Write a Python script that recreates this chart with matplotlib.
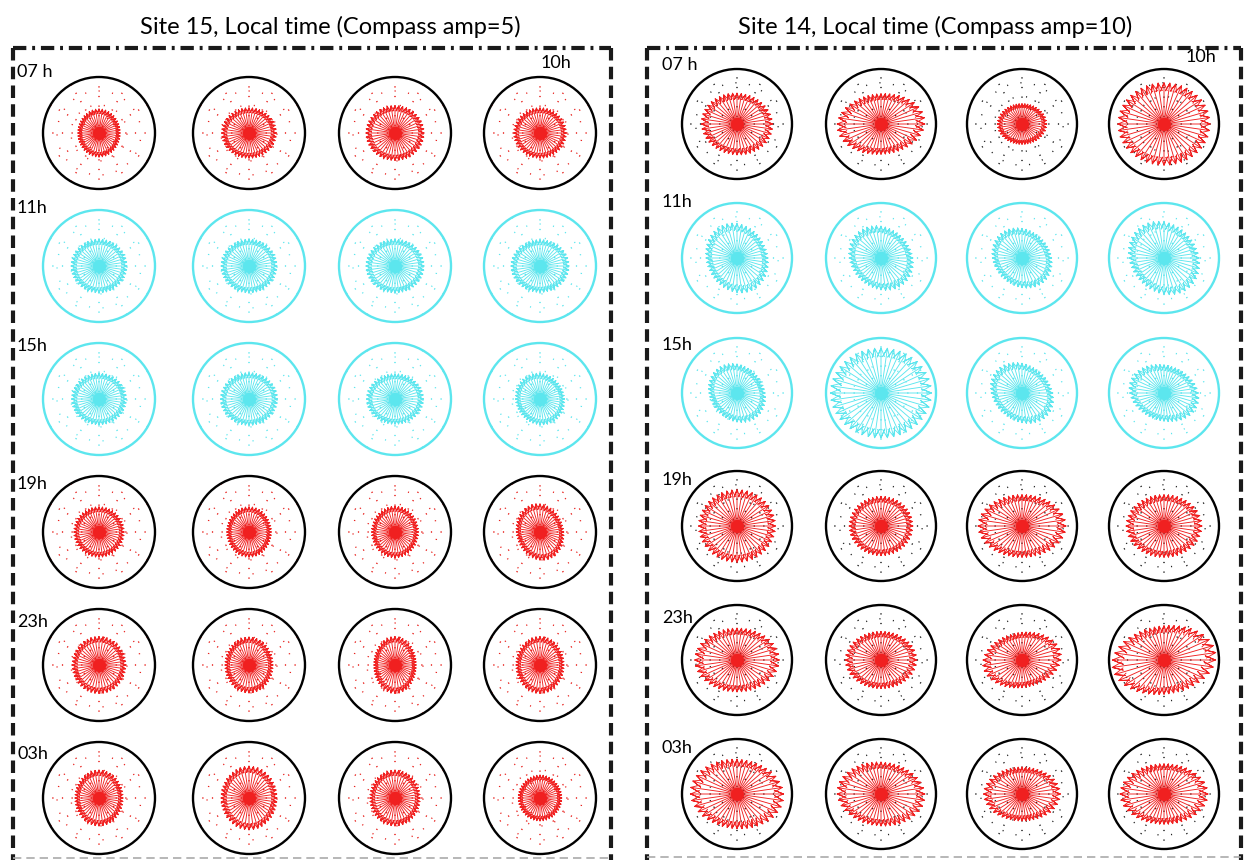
import numpy as np
import matplotlib.pyplot as plt
from matplotlib.collections import LineCollection
from matplotlib.patches import Circle

plt.rcParams['font.family'] = ['Lato', 'DejaVu Sans']

# ---- data -------------------------------------------------------------
titles = ['Site 15, Local time (Compass amp=5)',
          'Site 14, Local time (Compass amp=10)']
row_labels = ['07 h', '11h', '15h', '19h', '23h', '03h']
corner_label = '10h'
# rows drawn in cyan (daytime) vs red/black
cyan_rows = [False, True, True, False, False, False]

# polarisation ellipse of each compass plot, as fraction of the outer circle
# a: semi-axis along tilt, b: perpendicular semi-axis, tilt in degrees
site15_a = [[0.38, 0.49, 0.52, 0.47],
            [0.50, 0.50, 0.52, 0.52],
            [0.49, 0.51, 0.51, 0.47],
            [0.45, 0.40, 0.42, 0.51],
            [0.48, 0.43, 0.38, 0.43],
            [0.43, 0.50, 0.45, 0.39]]
site15_b = [[0.43, 0.45, 0.49, 0.45],
            [0.48, 0.48, 0.48, 0.47],
            [0.46, 0.47, 0.45, 0.43],
            [0.45, 0.45, 0.46, 0.42],
            [0.51, 0.50, 0.51, 0.51],
            [0.50, 0.57, 0.50, 0.41]]
site15_tilt = [[0, 0, 0, 0],
               [0, 0, 0, 0],
               [0, 0, 0, 120],
               [0, 0, 0, 105],
               [0, 0, 0, 0],
               [0, 0, 0, 0]]

site14_a = [[0.65, 0.80, 0.45, 0.84],
            [0.65, 0.63, 0.59, 0.71],
            [0.57, 0.92, 0.62, 0.65],
            [0.70, 0.58, 0.80, 0.69],
            [0.77, 0.65, 0.72, 0.95],
            [0.85, 0.80, 0.70, 0.80]]
site14_b = [[0.56, 0.55, 0.37, 0.75],
            [0.55, 0.54, 0.50, 0.60],
            [0.48, 0.82, 0.50, 0.50],
            [0.66, 0.54, 0.57, 0.57],
            [0.58, 0.52, 0.50, 0.62],
            [0.63, 0.58, 0.49, 0.55]]
site14_tilt = [[-8, 5, 0, 0],
               [115, 135, 135, 130],
               [130, 0, 140, 160],
               [0, 0, 0, 0],
               [0, 0, 10, 8],
               [-5, -5, 0, 0]]

n_arrows = 44

# ---- layout (pixels) --------------------------------------------------
W, H = 1244, 860
fig = plt.figure(figsize=(W / 100, H / 100), dpi=100)

panels = [
    dict(a=site15_a, b=site15_b, tilt=site15_tilt,
         cols=[99, 249, 395, 540], rows=[133, 266, 399, 532, 665, 798], r=56,
         box=(13, 48, 611, 858), title_x=330, lab_x=17,
         lab_y=[72, 208, 346, 484, 622, 754], corner=(556, 63),
         grid_red='#e8201c'),
    dict(a=site14_a, b=site14_b, tilt=site14_tilt,
         cols=[737, 881, 1022, 1164], rows=[124, 258, 393, 526, 660, 794], r=55,
         box=(647, 48, 1241, 857), title_x=935, lab_x=662,
         lab_y=[65, 202, 345, 480, 618, 748], corner=(1201, 57),
         grid_red='#222222'),
]

RED = '#f02020'
CYAN = '#5ce6ee'

ov = fig.add_axes([0, 0, 1, 1])
ov.set_xlim(0, W)
ov.set_ylim(H, 0)
ov.axis('off')


def compass(ax, a, b, tilt, col, ring_col, grid_col):
    phi = np.linspace(0, 2 * np.pi, n_arrows, endpoint=False)
    d = phi - np.deg2rad(tilt)
    rad = a * b / np.sqrt((b * np.cos(d)) ** 2 + (a * np.sin(d)) ** 2)
    z = rad * np.exp(1j * phi)
    # matlab compass arrow: origin -> tip -> barb -> tip -> barb
    shape = np.array([0, 1, 0.8 + 0.08j, 1, 0.8 - 0.08j])
    segs = z[:, None] * shape[None, :]
    lines = [np.column_stack([s.real, s.imag]) for s in segs]

    # dotted polar grid
    for ang in np.arange(0, 360, 30):
        ca, sa = np.cos(np.deg2rad(ang)), np.sin(np.deg2rad(ang))
        ax.plot([0.12 * ca, ca], [0.12 * sa, sa], color=grid_col,
                ls=(0, (0.8, 5.5)), lw=1.1, zorder=1)
    tt = np.linspace(0, 2 * np.pi, 200)
    for rr in (0.5, 0.75):
        ax.plot(rr * np.cos(tt), rr * np.sin(tt), color=grid_col,
                ls=(2, (0.8, 9)), lw=1.0, zorder=1)

    ax.add_collection(LineCollection(lines, colors=col, linewidths=0.65, zorder=3))
    ax.scatter([0], [0], s=90, color=col, zorder=4, linewidths=0)
    ax.add_patch(Circle((0, 0), 1, fill=False, ec=ring_col, lw=1.7, zorder=5))
    ax.set_xlim(-1.04, 1.04)
    ax.set_ylim(-1.04, 1.04)
    ax.set_aspect('equal')
    ax.axis('off')


for p in panels:
    for i, cy in enumerate(p['rows']):
        for j, cx in enumerate(p['cols']):
            r = p['r'] * 1.04
            ax = fig.add_axes([(cx - r) / W, 1 - (cy + r) / H, 2 * r / W, 2 * r / H])
            if cyan_rows[i]:
                col, ring, grid = CYAN, CYAN, CYAN
            else:
                col, ring, grid = RED, 'black', p['grid_red']
            compass(ax, p['a'][i][j], p['b'][i][j], p['tilt'][i][j], col, ring, grid)

    x0, y0, x1, y1 = p['box']
    ov.plot([x0, x1], [y0, y0], color='#1a1a1a', lw=3, ls=(0, (3.2, 1.4, 0.7, 1.4)),
            solid_capstyle='butt')
    ov.plot([x0, x0], [y0, H + 5], color='#1a1a1a', lw=3, ls=(0, (3.0, 1.5)))
    ov.plot([x1, x1], [y0, H + 5], color='#1a1a1a', lw=3, ls=(0, (3.0, 1.5)))
    ov.plot([x0, x1], [y1, y1], color='#aaaaaa', lw=1.2, ls=(0, (5, 3)))

    fig.text(p['title_x'] / W, 1 - 27 / H, titles[panels.index(p)],
             ha='center', va='center', fontsize=17)
    for k, lab in enumerate(row_labels):
        fig.text(p['lab_x'] / W, 1 - p['lab_y'][k] / H, lab,
                 ha='left', va='center', fontsize=13)
    fig.text(p['corner'][0] / W, 1 - p['corner'][1] / H, corner_label,
             ha='center', va='center', fontsize=13)

fig.savefig('out.png', dpi=100)
